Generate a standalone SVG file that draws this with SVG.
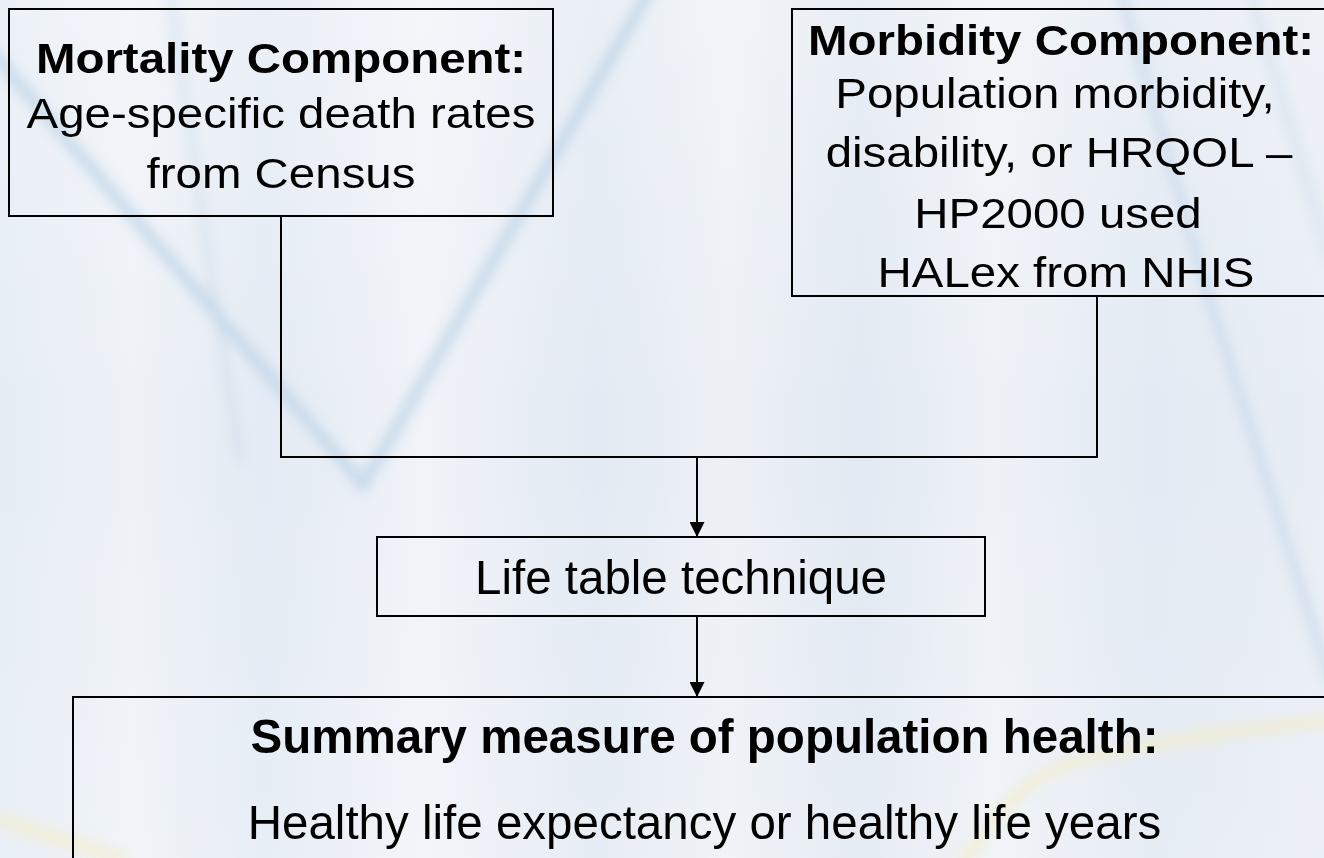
<svg xmlns="http://www.w3.org/2000/svg" width="1324" height="858" viewBox="0 0 1324 858">
  <defs>
    <linearGradient id="bg" x1="0" y1="0" x2="1" y2="0">
      <stop offset="0" stop-color="#e6edf5"/>
      <stop offset="0.1" stop-color="#eef2f7"/>
      <stop offset="0.2" stop-color="#e4ebf4"/>
      <stop offset="0.32" stop-color="#f0f3f8"/>
      <stop offset="0.45" stop-color="#e3eaf3"/>
      <stop offset="0.55" stop-color="#edf1f6"/>
      <stop offset="0.65" stop-color="#e2e9f2"/>
      <stop offset="0.75" stop-color="#eef2f7"/>
      <stop offset="0.87" stop-color="#e3eaf3"/>
      <stop offset="1" stop-color="#e9eef5"/>
    </linearGradient>
    <linearGradient id="vfade" x1="0" y1="0" x2="0" y2="1">
      <stop offset="0" stop-color="#ffffff" stop-opacity="0.25"/>
      <stop offset="0.5" stop-color="#ffffff" stop-opacity="0"/>
      <stop offset="1" stop-color="#ffffff" stop-opacity="0.15"/>
    </linearGradient>
    <filter id="blur" x="-20%" y="-20%" width="140%" height="140%">
      <feGaussianBlur stdDeviation="6"/>
    </filter>
    <marker id="arrow" viewBox="0 0 15 15" refX="15" refY="7.5" markerWidth="15" markerHeight="15" markerUnits="userSpaceOnUse" orient="auto">
      <path d="M0,0 L15,7.5 L0,15 Z" fill="#000"/>
    </marker>
    <style>
      .box { fill: none; stroke: #000; stroke-width: 2; }
      .conn { fill: none; stroke: #000; stroke-width: 2; }
      .t { font-family: "Liberation Sans", Arial, sans-serif; fill: #000; text-anchor: middle; }
      .b { font-weight: bold; }
      .top { font-size: 42px; }
      .mid { font-size: 47.5px; }
    </style>
  </defs>

  <g id="background">
    <rect x="0" y="0" width="1324" height="858" fill="url(#bg)"/>
    <rect x="0" y="0" width="1324" height="858" fill="url(#vfade)"/>
    <g filter="url(#blur)" fill="none" stroke-linecap="round">
      <path d="M-10,50 L363,485 L650,-10" stroke="#b9d0e6" stroke-width="12" opacity="0.7"/>
      <path d="M170,-10 L215,300 L240,460" stroke="#c6d8ea" stroke-width="8" opacity="0.5"/>
      <path d="M1120,-10 L1210,300 L1330,680" stroke="#bfd3e8" stroke-width="10" opacity="0.6"/>
      <path d="M1250,-10 L1330,260" stroke="#c6d8ea" stroke-width="8" opacity="0.5"/>
      <path d="M960,870 C1000,800 1040,770 1080,760 C1160,740 1240,730 1330,720" stroke="#f3ecc8" stroke-width="10" opacity="0.8"/>
      <path d="M0,820 L120,858" stroke="#f3ecc8" stroke-width="14" opacity="0.6"/>
    </g>
  </g>

  <g id="connectors">
    <polyline class="conn" points="281,216 281,457 1097,457 1097,296"/>
    <line class="conn" x1="697" y1="457" x2="697" y2="537" marker-end="url(#arrow)"/>
    <line class="conn" x1="697" y1="616" x2="697" y2="697" marker-end="url(#arrow)"/>
  </g>

  <g id="node-mortality">
    <rect class="box" x="9" y="9" width="544" height="207"/>
    <text class="t top b" transform="translate(281,72.5) scale(1.13,1)">Mortality Component:</text>
    <text class="t top" transform="translate(281,128) scale(1.13,1)">Age-specific death rates</text>
    <text class="t top" transform="translate(281,188) scale(1.13,1)">from Census</text>
  </g>

  <g id="node-morbidity">
    <rect class="box" x="792" y="9" width="540" height="287"/>
    <text class="t top b" transform="translate(1061,55) scale(1.13,1)">Morbidity Component:</text>
    <text class="t top" transform="translate(1055,108) scale(1.13,1)">Population morbidity,</text>
    <text class="t top" transform="translate(1059,167) scale(1.13,1)">disability, or HRQOL –</text>
    <text class="t top" transform="translate(1058,228) scale(1.13,1)">HP2000 used</text>
    <text class="t top" transform="translate(1066,287) scale(1.13,1)">HALex from NHIS</text>
  </g>

  <g id="node-lifetable">
    <rect class="box" x="377" y="537" width="608" height="79"/>
    <text class="t mid" x="681" y="594">Life table technique</text>
  </g>

  <g id="node-summary">
    <rect class="box" x="73" y="697" width="1270" height="180"/>
    <text class="t mid b" x="704.5" y="753">Summary measure of population health:</text>
    <text class="t mid" x="704.5" y="839">Healthy life expectancy or healthy life years</text>
  </g>
</svg>
